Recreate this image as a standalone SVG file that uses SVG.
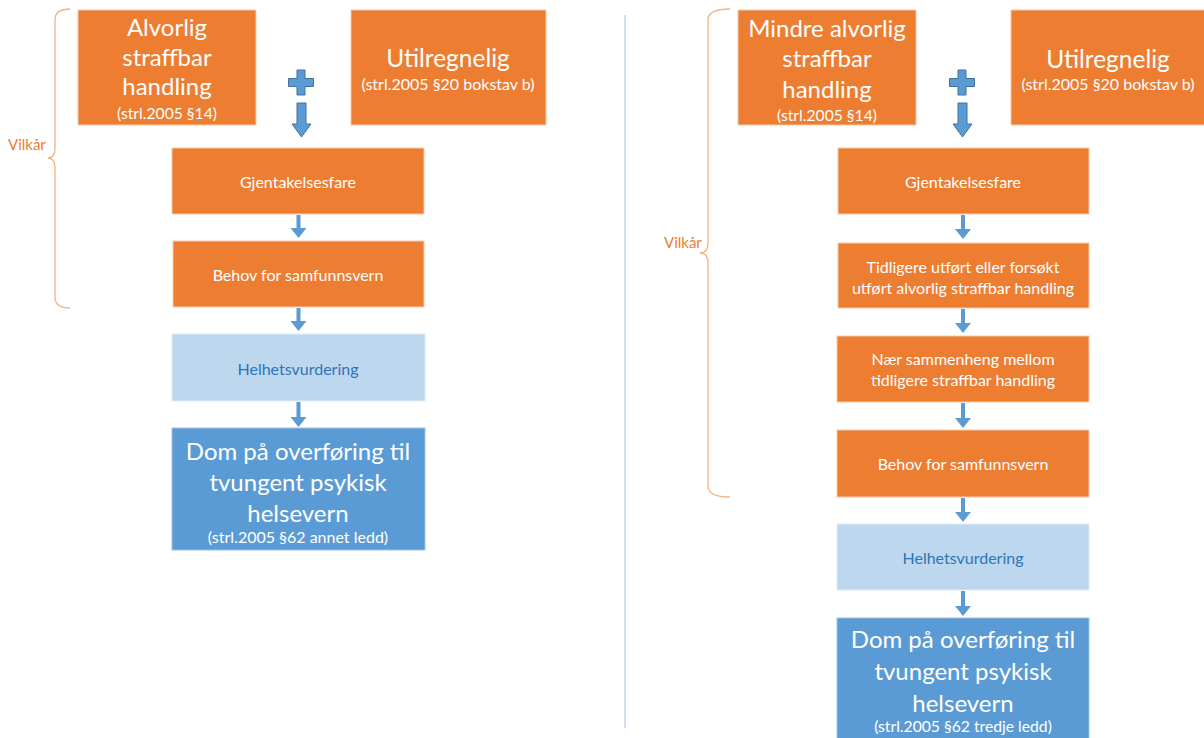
<svg xmlns="http://www.w3.org/2000/svg" width="1204" height="738" viewBox="0 0 1204 738">
<style>
text{font-family:Lato,"Open Sans","Liberation Sans",sans-serif;text-anchor:middle;dominant-baseline:central}
.o{fill:#ED7D31;stroke:#F8CBAD;stroke-width:1}
.lb{fill:#BDD7EE;stroke:#DEEBF7;stroke-width:1}
.db{fill:#5B9BD5;stroke:#9DC3E6;stroke-width:1}
.w{fill:#fff}
.big{font-size:24px}
.mid{font-size:24.5px}
.sm{font-size:16px}
.xs{font-size:15.7px}
.hv{fill:#2E75B6;font-size:16px}
.ar{fill:#5B9BD5}
.bar{fill:#5B9BD5;stroke:#41719C;stroke-width:1}
.br{fill:none;stroke:#F4B183;stroke-width:1.3}
.vk{fill:#ED7D31;font-size:15px;text-anchor:start}
</style>
<line x1="625" y1="15" x2="625" y2="728" stroke="#9DC3E6" stroke-width="1"/>
<g id="brace-left">
<path class="br" d="M70,9 Q55,9 55,20 L55,148 Q55,158 48,158 Q55,158 55,168 L55,297 Q55,308 70,308"/>
<text class="vk" x="8" y="144">Vilkår</text>
</g>
<g id="brace-right">
<path class="br" d="M730,9 Q708,9 708,20 L708,243 Q708,253 700,253 Q708,253 708,263 L708,486 Q708,497 730,497"/>
<text class="vk" x="664" y="242">Vilkår</text>
</g>
<g id="L-handling">
<rect class="o" x="78" y="10" width="178" height="115"/>
<text class="w big" x="167" y="26">Alvorlig</text>
<text class="w big" x="167" y="56">straffbar</text>
<text class="w big" x="167" y="85">handling</text>
<text class="w xs" x="167" y="113">(strl.2005 §14)</text>
</g>
<g id="L-utilregnelig">
<rect class="o" x="351" y="10" width="195" height="115"/>
<text class="w mid" x="448" y="57">Utilregnelig</text>
<text class="w sm" x="448" y="83">(strl.2005 §20 bokstav b)</text>
</g>
<g id="L-gjentakelse">
<rect class="o" x="172" y="148" width="252" height="66"/>
<text class="w sm" x="298" y="181">Gjentakelsesfare</text>
</g>
<g id="L-behov">
<rect class="o" x="173" y="241" width="251" height="66"/>
<text class="w sm" x="298" y="274">Behov for samfunnsvern</text>
</g>
<g id="L-helhet">
<rect class="lb" x="172" y="334" width="253" height="67"/>
<text class="hv" x="298" y="368">Helhetsvurdering</text>
</g>
<g id="L-dom">
<rect class="db" x="172" y="428" width="253" height="122"/>
<text class="w big" x="298" y="450">Dom på overføring til</text>
<text class="w big" x="298" y="481">tvungent psykisk</text>
<text class="w big" x="298" y="512">helsevern</text>
<text class="w sm" x="298" y="536">(strl.2005 §62 annet ledd)</text>
</g>
<g id="R-handling">
<rect class="o" x="738" y="10" width="178" height="115"/>
<text class="w big" x="827" y="27">Mindre alvorlig</text>
<text class="w big" x="827" y="57">straffbar</text>
<text class="w big" x="827" y="88">handling</text>
<text class="w xs" x="827" y="115">(strl.2005 §14)</text>
</g>
<g id="R-utilregnelig">
<rect class="o" x="1011" y="10" width="196" height="115"/>
<text class="w mid" x="1108" y="58">Utilregnelig</text>
<text class="w sm" x="1108" y="83">(strl.2005 §20 bokstav b)</text>
</g>
<g id="R-gjentakelse">
<rect class="o" x="838" y="148" width="251" height="66"/>
<text class="w sm" x="963" y="181">Gjentakelsesfare</text>
</g>
<g id="R-tidligere">
<rect class="o" x="838" y="243" width="251" height="65"/>
<text class="w sm" x="963" y="266">Tidligere utført eller forsøkt</text>
<text class="w sm" x="963" y="287">utført alvorlig straffbar handling</text>
</g>
<g id="R-naer">
<rect class="o" x="837" y="336" width="252" height="66"/>
<text class="w sm" x="963" y="358">Nær sammenheng mellom</text>
<text class="w sm" x="963" y="379">tidligere straffbar handling</text>
</g>
<g id="R-behov">
<rect class="o" x="837" y="430" width="252" height="67"/>
<text class="w sm" x="963" y="463">Behov for samfunnsvern</text>
</g>
<g id="R-helhet">
<rect class="lb" x="837" y="524" width="252" height="66"/>
<text class="hv" x="963" y="557">Helhetsvurdering</text>
</g>
<g id="R-dom">
<rect class="db" x="837" y="618" width="252" height="130"/>
<text class="w big" x="963" y="638">Dom på overføring til</text>
<text class="w big" x="963" y="670">tvungent psykisk</text>
<text class="w big" x="963" y="702">helsevern</text>
<text class="w xs" x="963" y="726">(strl.2005 §62 tredje ledd)</text>
</g>
<g id="connectors">
<path class="bar" d="M297,70 h8 v8.5 h8.5 v8 h-8.5 v8.5 h-8 v-8.5 h-8.5 v-8 h8.5 z"/>
<path class="bar" d="M297,103 h9 v21 h5 l-9.5,13 l-9.5,-13 h5 z"/>
<path class="bar" d="M958,70 h8 v8.5 h8.5 v8 h-8.5 v8.5 h-8 v-8.5 h-8.5 v-8 h8.5 z"/>
<path class="bar" d="M958,103 h9 v21 h5 l-9.5,13 l-9.5,-13 h5 z"/>
<path class="ar" d="M296.5,215 h4 v13 h6 l-8,10 l-8,-10 h6 z"/>
<path class="ar" d="M296.5,308 h4 v13 h6 l-8,10 l-8,-10 h6 z"/>
<path class="ar" d="M296.5,402 h4 v15 h6 l-8,10 l-8,-10 h6 z"/>
<path class="ar" d="M961,215 h4 v14 h6 l-8,10 l-8,-10 h6 z"/>
<path class="ar" d="M961,309 h4 v14 h6 l-8,10 l-8,-10 h6 z"/>
<path class="ar" d="M961,403 h4 v15 h6 l-8,10 l-8,-10 h6 z"/>
<path class="ar" d="M961,498 h4 v14 h6 l-8,10 l-8,-10 h6 z"/>
<path class="ar" d="M961,591 h4 v15 h6 l-8,10 l-8,-10 h6 z"/>
</g>
</svg>
